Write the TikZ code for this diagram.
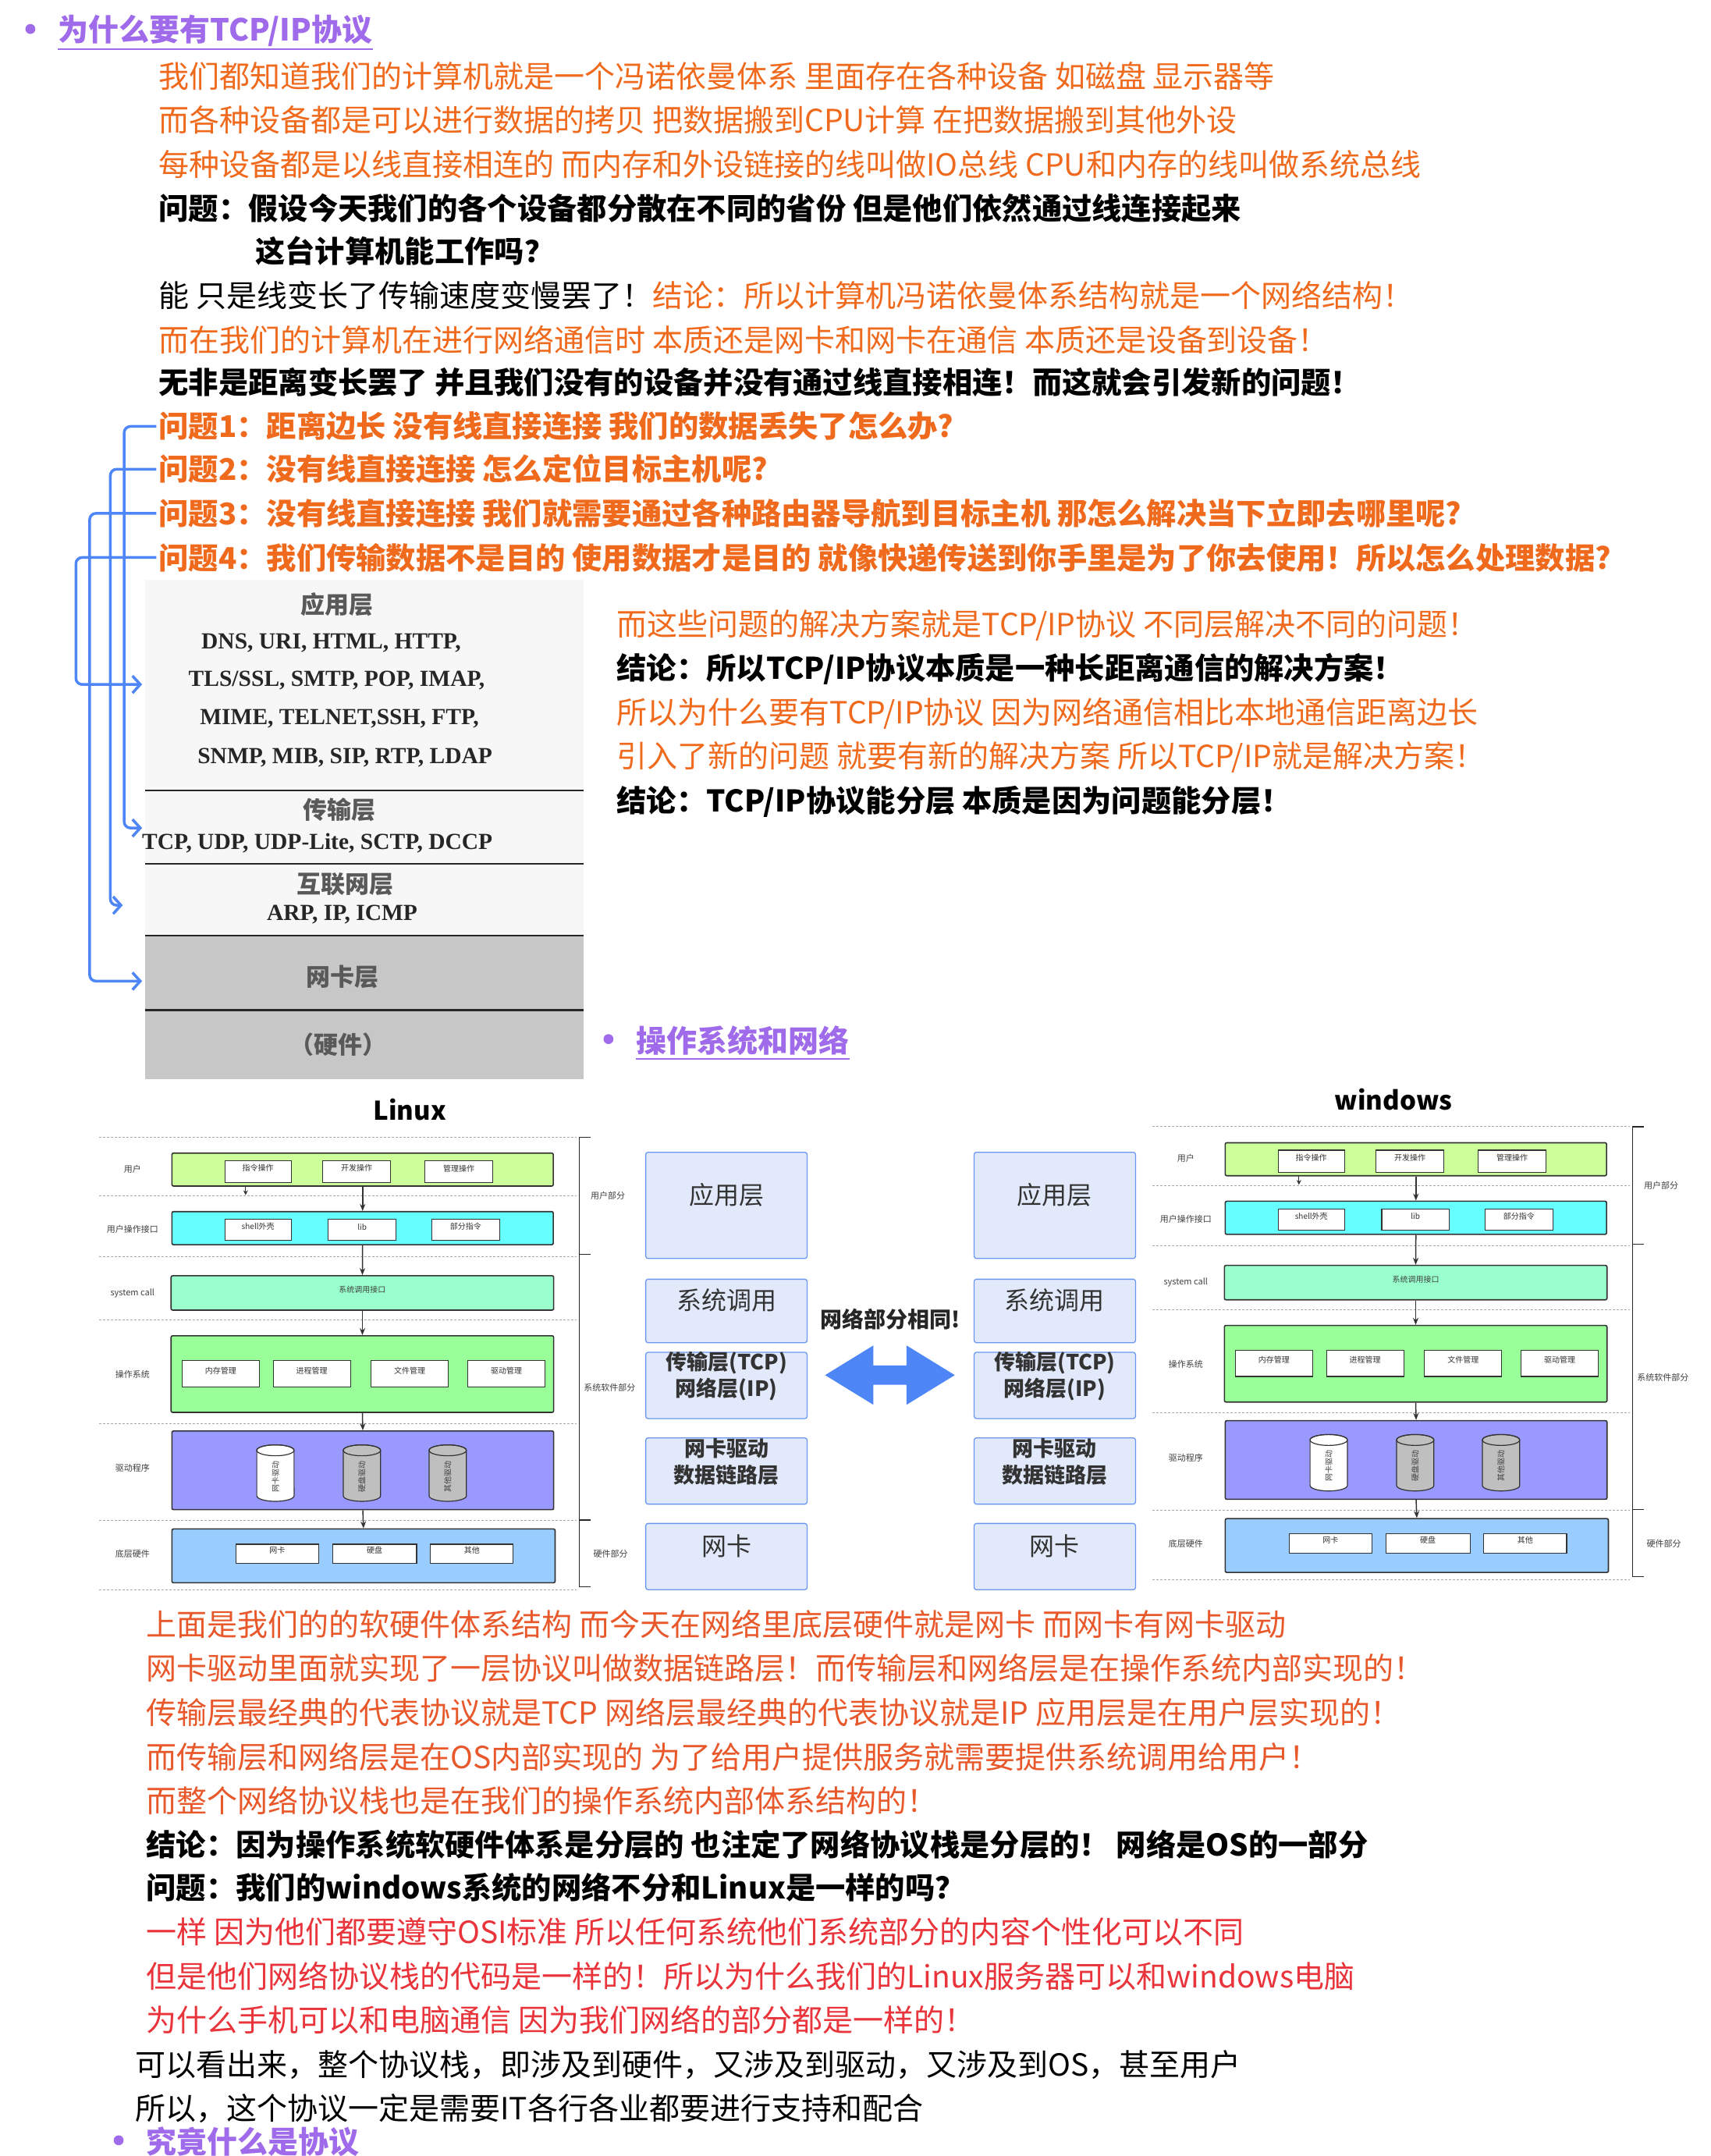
\documentclass[tikz,border=0pt]{standalone}
\usepackage{fontspec}
\setmainfont{Noto Sans CJK SC}
\newfontfamily\serifb{Liberation Serif}
\usetikzlibrary{arrows.meta,fit}
\definecolor{orng}{HTML}{F06A1E}
\definecolor{orn2}{HTML}{E8582A}
\definecolor{redt}{HTML}{E8343A}
\definecolor{purp}{HTML}{9F6BEA}
\definecolor{blu}{HTML}{4F86F7}
\definecolor{mbox}{HTML}{E1E9FB}
\definecolor{mbrd}{HTML}{6A98F0}
\tikzset{
 tx/.style={anchor=west,inner sep=0,font=\fontsize{39}{42}\selectfont},
 ob/.style={tx,text=orng},
 o2/.style={tx,text=orn2},
 rd/.style={tx,text=redt},
 bk/.style={tx,text=black,font=\fontsize{38.3}{42}\selectfont\bfseries},
 qb/.style={tx,text=orng,font=\fontsize{38.3}{42}\selectfont\bfseries},
 hd/.style={anchor=west,inner sep=0,text=purp,font=\fontsize{39}{42}\selectfont\bfseries},
 brk/.style={blu,line width=3.5pt,rounded corners=8pt,-{Straight Barb[length=10pt,width=22pt]}},
 lay/.style={inner sep=0,font=\serifb\fontsize{29.5}{32}\selectfont\bfseries,text=black!85},
 layc/.style={inner sep=0,font=\fontsize{31}{32}\selectfont\bfseries,text=black!65},
 obox/.style={draw=black!80,line width=1.6pt,rounded corners=2pt,inner sep=0},
 ibox/.style={draw=black!80,fill=white,line width=1.2pt,inner sep=0,font=\fontsize{10}{11}\selectfont,text=black!80},
 side/.style={inner sep=0,font=\fontsize{11}{12}\selectfont,text=black!75},
 dl/.style={densely dashed,black!35,line width=0.9pt},
 darr/.style={-{Stealth[length=9pt,width=7pt]},line width=1.5pt,black!80},
 cylt/.style={rotate=90,font=\fontsize{10}{11}\selectfont,text=black!75},
 mb/.style={draw=mbrd,fill=mbox,line width=1.3pt,rounded corners=3pt,inner sep=0,font=\fontsize{32}{34}\selectfont,text=black!80},
 mbb/.style={mb,font=\fontsize{27}{34}\selectfont\bfseries,align=center},
}
\newcommand\mycyl[3]{%
 \filldraw[fill=#3,draw=black!80,line width=1.2pt] (#1-13.5,#2-16.5) -- (#1-13.5,#2+16.5) arc[start angle=180,end angle=360,x radius=23.9pt,y radius=7pt] -- (#1+13.5,#2-16.5) arc[start angle=0,end angle=180,x radius=23.9pt,y radius=7pt] -- cycle;
 \draw[black!80,line width=1.2pt] (#1,#2-16.5) ellipse[x radius=23.9pt,y radius=7pt];
}
\newcommand\osdiag{%
 \foreach \yy in {824,866.5,910.5,956.5,1031.5,1102,1152} \draw[dl] (72,\yy) -- (418,\yy);
 \node[obox,fill={rgb,255:red,204;green,255;blue,153},fit={(124.6,835.6)(401,859.5)}] (u) {};
 \node[ibox,fit={(163,841)(211,857)}] (u1) {指令操作};
 \node[ibox,fit={(234,841)(283,857)}] (u2) {开发操作};
 \node[ibox,fit={(308,841)(357,857)}] (u3) {管理操作};
 \node[obox,fill={rgb,255:red,102;green,255;blue,255},fit={(124.6,878)(401,902)}] (uo) {};
 \node[ibox,fit={(163,883.5)(211,899)}] (uo1) {shell外壳};
 \node[ibox,fit={(238,883.5)(287,899)}] (uo2) {lib};
 \node[ibox,fit={(313,883.5)(362,899)}] (uo3) {部分指令};
 \node[obox,fill={rgb,255:red,153;green,255;blue,204},fit={(124,924.5)(401.3,949.4)},font=\fontsize{10}{11}\selectfont,text=black!75] (sc) {系统调用接口};
 \node[obox,fill={rgb,255:red,153;green,255;blue,153},fit={(124,968)(401.3,1023.5)}] (os) {};
 \node[ibox,fit={(132,986)(188,1005)}] (os1) {内存管理};
 \node[ibox,fit={(198,986)(254,1005)}] (os2) {进程管理};
 \node[ibox,fit={(269,986)(325,1005)}] (os3) {文件管理};
 \node[ibox,fit={(339,986)(395,1005)}] (os4) {驱动管理};
 \node[obox,fill={rgb,255:red,153;green,153;blue,255},fit={(124.6,1037)(401.3,1094)}] (dr) {};
 \mycyl{199.6}{1067.5}{white}
 \mycyl{262.3}{1067.5}{black!25}
 \mycyl{324.5}{1067.5}{black!25}
 \node[cylt] (c1) at (199.6,1070) {网卡驱动};
 \node[cylt] (c2) at (262.3,1070) {硬盘驱动};
 \node[cylt] (c3) at (324.5,1070) {其他驱动};
 \node[obox,fill={rgb,255:red,153;green,204;blue,255},fit={(124.6,1108)(402.3,1147)}] (hw) {};
 \node[ibox,fit={(171,1119)(231,1133)}] (hw1) {网卡};
 \node[ibox,fit={(241,1119)(302,1133)}] (hw2) {硬盘};
 \node[ibox,fit={(312,1119)(372,1133)}] (hw3) {其他};
 \draw[darr] (u.south) -- (uo.north);
 \draw[darr] (uo.south) -- (sc.north);
 \draw[darr] (sc.south) -- (os.north);
 \draw[darr] (os.south) -- (dr.north);
 \draw[darr] (dr.south) -- (hw.north);
 \coordinate (ua) at (178,859.5); \coordinate (ub) at (178,866);
 \draw[-{Stealth[length=6pt,width=6pt]},line width=1pt,black!80] (ua) -- (ub);
 \draw[line width=1.3pt,black!85] (428,824) -- (420,824) -- (420,1150) -- (428,1150);
 \draw[line width=1.3pt,black!85] (420,909) -- (428,909) (420,1101.5) -- (428,1101.5);
 \node[side,anchor=center] at (96,847) {用户};
 \node[side,anchor=center] at (96,891) {用户操作接口};
 \node[side,anchor=center] at (96,937) {system call};
 \node[side,anchor=center] at (96,996) {操作系统};
 \node[side,anchor=center] at (96,1064) {驱动程序};
 \node[side,anchor=center] at (96,1126) {底层硬件};
 \node[side,anchor=west] at (428,866.5) {用户部分};
 \node[side,anchor=west] at (423,1005.6) {系统软件部分};
 \node[side,anchor=west] at (430,1126) {硬件部分};
}
\begin{document}
\begin{tikzpicture}[x=1.7685pt,y=-1.7685pt]
\useasboundingbox[fill=white] (0,0) rectangle (1240,1562.4);
% heading
\fill[purp] (22,21) circle (3.6);
\node[hd] (h1) at (42,22) {为什么要有TCP/IP协议};
\draw[purp,line width=2pt] ([yshift=-4pt]h1.south west) -- ([yshift=-4pt]h1.south east);
\node[ob] (l1) at (115,55) {我们都知道我们的计算机就是一个冯诺依曼体系 里面存在各种设备 如磁盘 显示器等};
\node[ob] (l2) at (115,87) {而各种设备都是可以进行数据的拷贝 把数据搬到CPU计算 在把数据搬到其他外设};
\node[ob] (l3) at (115,119) {每种设备都是以线直接相连的 而内存和外设链接的线叫做IO总线 CPU和内存的线叫做系统总线};
\node[bk] (l4) at (115,151) {问题：假设今天我们的各个设备都分散在不同的省份 但是他们依然通过线连接起来};
\node[bk] (l5) at (185,182) {这台计算机能工作吗？};
\node[tx] (l6) at (115,214) {能 只是线变长了传输速度变慢罢了！\textcolor{orng}{结论：所以计算机冯诺依曼体系结构就是一个网络结构！}};
\node[ob] (l7) at (115,246) {而在我们的计算机在进行网络通信时 本质还是网卡和网卡在通信 本质还是设备到设备！};
\node[bk] (l8) at (115,277) {无非是距离变长罢了 并且我们没有的设备并没有通过线直接相连！而这就会引发新的问题！};
\node[qb] (q1) at (115,309) {问题1：距离边长 没有线直接连接 我们的数据丢失了怎么办?};
\node[qb] (q2) at (115,340) {问题2：没有线直接连接 怎么定位目标主机呢?};
\node[qb] (q3) at (115,372) {问题3：没有线直接连接 我们就需要通过各种路由器导航到目标主机 那怎么解决当下立即去哪里呢?};
\node[qb] (q4) at (115,404) {问题4：我们传输数据不是目的 使用数据才是目的 就像快递传送到你手里是为了你去使用！所以怎么处理数据?};
% layer image
\fill[black!3] (105,420) rectangle (423,678);
\fill[black!22] (105,678) rectangle (423,782);
\foreach \yy in {573,626,678,732} \draw[black!85,line width=2.2pt] (105,\yy) -- (423,\yy);
\node[layc] (a0) at (244,438) {应用层};
\node[lay] (a1) at (240,466) {DNS, URI, HTML, HTTP,};
\node[lay] (a2) at (244,493) {TLS/SSL, SMTP, POP, IMAP,};
\node[lay] (a3) at (246,521) {MIME, TELNET,SSH, FTP,};
\node[lay] (a4) at (250,549) {SNMP, MIB, SIP, RTP, LDAP};
\node[layc] (t0) at (246,587) {传输层};
\node[lay] (t1) at (230,611) {TCP, UDP, UDP-Lite, SCTP, DCCP};
\node[layc] (i0) at (250,641) {互联网层};
\node[lay] (i1) at (248,663) {ARP, IP, ICMP};
\node[layc] (n0) at (248,708) {网卡层};
\node[layc] (hh) at (245,757) {（硬件）};
\coordinate (p1) at (103,600); \coordinate (p2) at (89,656); \coordinate (p3) at (103,711); \coordinate (p4) at (103,496);
\draw[brk] ([xshift=-3pt]q1.west) -| (90,590) |- (p1);
\draw[brk] ([xshift=-3pt]q2.west) -| (80,640) |- (p2);
\draw[brk] ([xshift=-3pt]q3.west) -| (65,700) |- (p3);
\draw[brk] ([xshift=-3pt]q4.west) -| (55,480) |- (p4);
% right text
\node[ob] (r1) at (447,453) {而这些问题的解决方案就是TCP/IP协议 不同层解决不同的问题！};
\node[bk] (r2) at (447,485) {结论：所以TCP/IP协议本质是一种长距离通信的解决方案！};
\node[ob] (r3) at (447,517) {所以为什么要有TCP/IP协议 因为网络通信相比本地通信距离边长};
\node[ob] (r4) at (447,549) {引入了新的问题 就要有新的解决方案 所以TCP/IP就是解决方案！};
\node[bk] (r5) at (447,581) {结论：TCP/IP协议能分层 本质是因为问题能分层！};
% second heading
\fill[purp] (441,753) circle (3.6);
\node[hd] (h2) at (461,754) {操作系统和网络};
\draw[purp,line width=2pt] ([yshift=-4pt]h2.south west) -- ([yshift=-4pt]h2.south east);
% diagrams
\node[font=\fontsize{33}{34}\selectfont\bfseries] (lt) at (297,804) {Linux};
\node[font=\fontsize{33}{34}\selectfont\bfseries] (wt) at (1010,797) {windows};
\begin{scope}[name prefix=L-]\osdiag\end{scope}
\begin{scope}[shift={(763.4,-7.5)},name prefix=W-]\osdiag\end{scope}
% middle boxes
\node[mb,fit={(468,835)(585,912)}] (m1) {应用层};
\node[mb,fit={(468,927)(585,973)}] (m2) {系统调用};
\node[mbb,fit={(468,980)(585,1028)}] (m3) {传输层(TCP)\\网络层(IP)};
\node[mbb,fit={(468,1042)(585,1090)}] (m4) {网卡驱动\\数据链路层};
\node[mb,fit={(468,1104)(585,1152)}] (m5) {网卡};
\node[mb,fit={(706,835)(823,912)}] (n1) {应用层};
\node[mb,fit={(706,927)(823,973)}] (n2) {系统调用};
\node[mbb,fit={(706,980)(823,1028)}] (n3) {传输层(TCP)\\网络层(IP)};
\node[mbb,fit={(706,1042)(823,1090)}] (n4) {网卡驱动\\数据链路层};
\node[mb,fit={(706,1104)(823,1152)}] (n5) {网卡};
\node[font=\fontsize{28}{30}\selectfont\bfseries,text=black!85] (same) at (645,956) {网络部分相同!};
\fill[blu] (598,996.5) -- (633,975) -- (633,989.5) -- (657,989.5) -- (657,975) -- (692,996.5) -- (657,1018) -- (657,1003.5) -- (633,1003.5) -- (633,1018) -- cycle;
% lower text
\node[o2] (b1) at (106,1177) {上面是我们的的软硬件体系结构 而今天在网络里底层硬件就是网卡 而网卡有网卡驱动};
\node[o2] (b2) at (106,1209) {网卡驱动里面就实现了一层协议叫做数据链路层！而传输层和网络层是在操作系统内部实现的！};
\node[o2] (b3) at (106,1241) {传输层最经典的代表协议就是TCP 网络层最经典的代表协议就是IP 应用层是在用户层实现的！};
\node[o2] (b4) at (106,1273) {而传输层和网络层是在OS内部实现的 为了给用户提供服务就需要提供系统调用给用户！};
\node[o2] (b5) at (106,1305) {而整个网络协议栈也是在我们的操作系统内部体系结构的！};
\node[bk] (b6) at (106,1337) {结论：因为操作系统软硬件体系是分层的 也注定了网络协议栈是分层的！ 网络是OS的一部分};
\node[bk] (b7) at (106,1368) {问题：我们的windows系统的网络不分和Linux是一样的吗？};
\node[rd] (b8) at (106,1400) {一样 因为他们都要遵守OSI标准 所以任何系统他们系统部分的内容个性化可以不同};
\node[rd] (b9) at (106,1432) {但是他们网络协议栈的代码是一样的！所以为什么我们的Linux服务器可以和windows电脑};
\node[rd] (b10) at (106,1464) {为什么手机可以和电脑通信 因为我们网络的部分都是一样的！};
\node[tx] (b11) at (98,1496) {可以看出来，整个协议栈，即涉及到硬件，又涉及到驱动，又涉及到OS，甚至用户};
\node[tx] (b12) at (98,1528) {所以，这个协议一定是需要IT各行各业都要进行支持和配合};
\fill[purp] (86,1551) circle (3.6);
\node[hd] (h3) at (106,1552) {究竟什么是协议};
\draw[purp,line width=2pt] ([yshift=-4pt]h3.south west) -- ([yshift=-4pt]h3.south east);
\end{tikzpicture}
\end{document}
